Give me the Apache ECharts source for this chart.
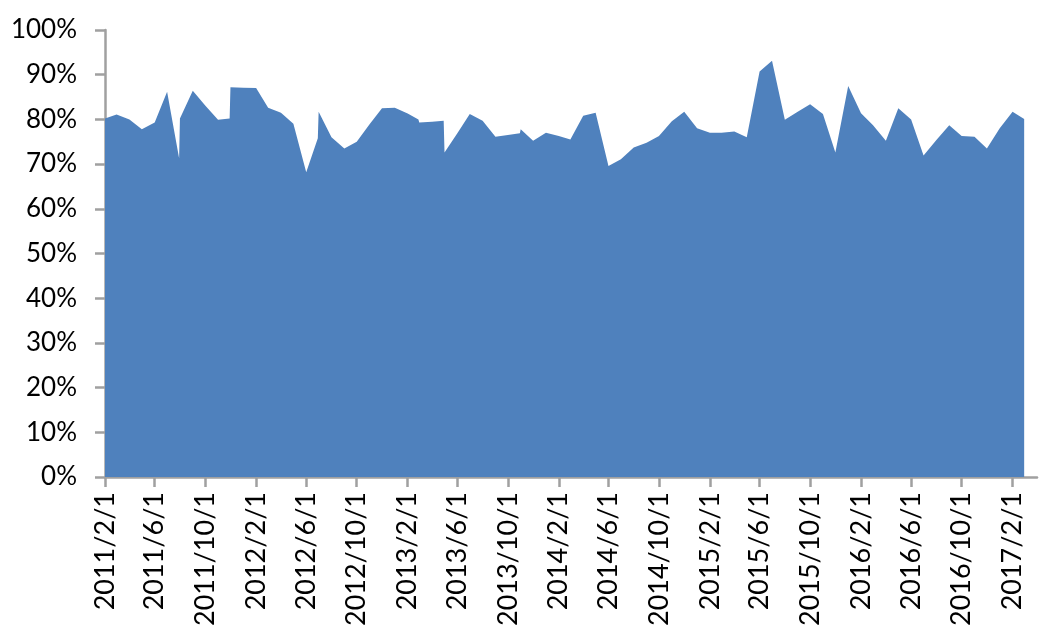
<!DOCTYPE html>
<html>
<head>
<meta charset="utf-8">
<script src="https://cdn.jsdelivr.net/npm/echarts@6/dist/echarts.min.js"></script>
<style>
html,body{margin:0;padding:0;background:#fff;}
#chart{width:1059px;height:636px;}
</style>
</head>
<body>
<div id="chart"></div>
<script>
// Dates of each observation (some months have two close observations)
const dates = [
  '2011-02-01','2011-03-01','2011-04-01','2011-05-01','2011-06-01','2011-07-01','2011-07-30','2011-08-01',
  '2011-09-01','2011-10-01','2011-11-01','2011-11-29','2011-12-01','2012-01-01','2012-02-01','2012-03-01',
  '2012-04-01','2012-05-01','2012-06-01','2012-06-29','2012-07-01','2012-08-01','2012-09-01','2012-10-01',
  '2012-11-01','2012-12-01','2013-01-01','2013-02-01','2013-02-27','2013-03-01','2013-04-01','2013-04-29',
  '2013-05-01','2013-06-01','2013-07-01','2013-08-01','2013-09-01','2013-10-01','2013-10-30','2013-11-01',
  '2013-12-01','2014-01-01','2014-02-01','2014-03-01','2014-04-01','2014-05-01','2014-06-01','2014-07-01',
  '2014-08-01','2014-09-01','2014-10-01','2014-11-01','2014-12-01','2015-01-01','2015-02-01','2015-03-01',
  '2015-04-01','2015-05-01','2015-06-01','2015-07-01','2015-08-01','2015-09-01','2015-10-01','2015-11-01',
  '2015-12-01','2016-01-01','2016-02-01','2016-03-01','2016-04-01','2016-05-01','2016-06-01','2016-07-01',
  '2016-08-01','2016-09-01','2016-10-01','2016-11-01','2016-12-01','2017-01-01','2017-02-01','2017-03-01'
];
// Values in percent
const values = [
  80.2, 81.1, 80.0, 77.8, 79.3, 86.2, 71.3, 80.2,
  86.4, 83.1, 79.9, 80.2, 87.2, 87.1, 87.0, 82.6,
  81.5, 79.0, 68.2, 75.8, 81.7, 76.0, 73.5, 75.0,
  78.9, 82.5, 82.6, 81.3, 80.0, 79.3, 79.5, 79.7,
  72.6, 76.9, 81.2, 79.7, 76.1, 76.5, 76.9, 77.8,
  75.2, 77.0, 76.3, 75.5, 80.8, 81.5, 69.6, 71.1,
  73.7, 74.8, 76.3, 79.6, 81.7, 78.0, 77.0, 77.0,
  77.3, 76.0, 90.7, 93.1, 79.9, 81.7, 83.4, 81.2,
  72.6, 87.5, 81.4, 78.7, 75.2, 82.5, 80.0, 71.9,
  75.4, 78.7, 76.3, 76.1, 73.5, 78.0, 81.7, 80.1
];
// X-axis tick labels (every 4 months)
const xTickLabels = [
  '2011/2/1','2011/6/1','2011/10/1','2012/2/1','2012/6/1','2012/10/1','2013/2/1','2013/6/1','2013/10/1',
  '2014/2/1','2014/6/1','2014/10/1','2015/2/1','2015/6/1','2015/10/1','2016/2/1','2016/6/1','2016/10/1','2017/2/1'
];
const xMin = '2011-02-01';
const xMax = '2017-04-01';

function toTs(s){
  const p = s.split(/[-\/]/).map(Number);
  return new Date(p[0], p[1]-1, p[2]).getTime();
}
const seriesData = dates.map((d,i)=>[toTs(d), values[i]]);
const tickValues = xTickLabels.map(toTs);

const FONT = 'Lato';
const axisGray = '#a0a0a0';

const chart = echarts.init(document.getElementById('chart'), null, {renderer:'canvas'});
chart.setOption({
  animation:false,
  backgroundColor:'#ffffff',
  grid:{left:105, right:22, top:30, bottom:159, containLabel:false},
  xAxis:{
    type:'value',
    min:toTs(xMin), max:toTs(xMax),
    axisLine:{show:true, onZero:false, lineStyle:{color:axisGray, width:2.5}},
    axisTick:{show:true, customValues:tickValues, length:10, lineStyle:{color:axisGray, width:2.5}},
    splitLine:{show:false},
    axisLabel:{
      customValues:tickValues,
      rotate:90,
      margin:15,
      color:'#000',
      fontFamily:FONT,
      fontSize:27,
      hideOverlap:false,
      showMinLabel:true,
      showMaxLabel:true,
      formatter:function(v){
        const d=new Date(v);
        return d.getFullYear()+'/'+(d.getMonth()+1)+'/'+d.getDate();
      }
    }
  },
  yAxis:{
    type:'value',
    min:0, max:100, interval:10,
    axisLine:{show:true, lineStyle:{color:axisGray, width:2.5}},
    axisTick:{show:true, length:10, lineStyle:{color:axisGray, width:2.5}},
    splitLine:{show:false},
    axisLabel:{
      color:'#000', fontFamily:FONT, fontSize:26, margin:28,
      formatter:'{value}%'
    }
  },
  series:[{
    type:'line',
    data:seriesData,
    showSymbol:false,
    symbol:'none',
    lineStyle:{width:0, color:'#4f81bd'},
    itemStyle:{color:'#4f81bd'},
    areaStyle:{color:'#4f81bd', opacity:1},
    z:1
  }]
});
</script>
</body>
</html>
